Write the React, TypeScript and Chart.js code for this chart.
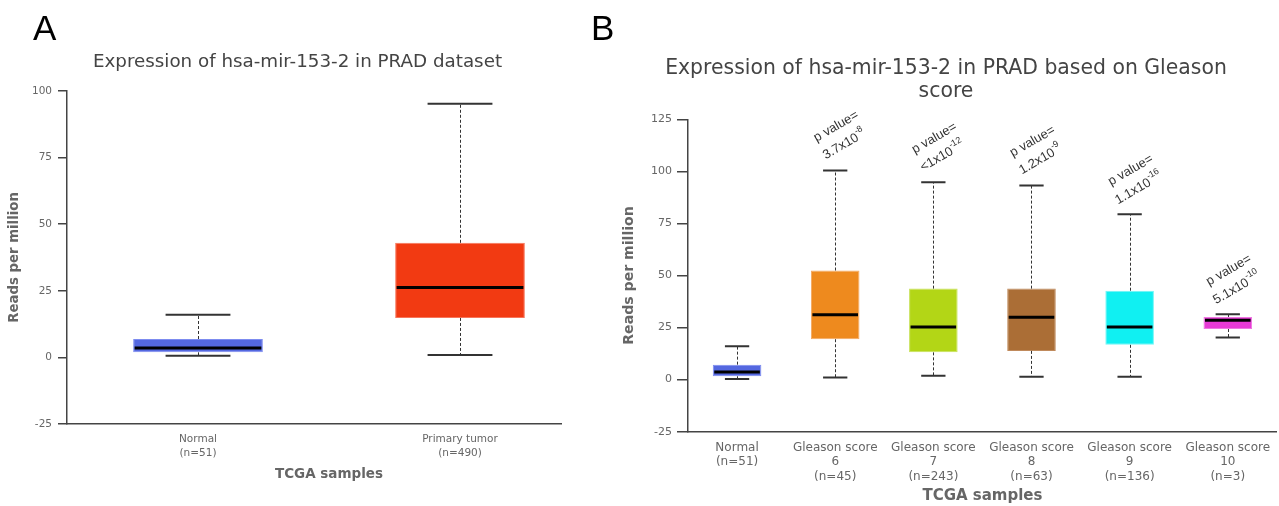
import React, { useEffect, useRef } from 'react';
import { Chart, registerables } from 'chart.js';

Chart.register(...registerables);

// ---------- Panel A data ----------
const categoriesA: string[][] = [['Normal', '(n=51)'], ['Primary tumor', '(n=490)']];
const minA = [0.6, 0.9];
const q1A = [1.9, 14.8];
const medianA = [3.5, 26.2];
const q3A = [6.9, 43.0];
const maxA = [16.0, 95.2];
const colorsA = ['#5468e0', '#f23a12'];
const bordersA = ['#7d8cf0', '#f7755a'];
const titleA = 'Expression of hsa-mir-153-2 in PRAD dataset';

// ---------- Panel B data ----------
const categoriesB: string[][] = [
  ['Normal', '(n=51)'],
  ['Gleason score', '6', '(n=45)'],
  ['Gleason score', '7', '(n=243)'],
  ['Gleason score', '8', '(n=63)'],
  ['Gleason score', '9', '(n=136)'],
  ['Gleason score', '10', '(n=3)'],
];
const minB = [0.3, 1.0, 1.9, 1.4, 1.4, 20.2];
const q1B = [1.6, 19.4, 13.1, 13.8, 16.7, 24.3];
const medianB = [3.7, 31.1, 25.3, 29.9, 25.3, 28.5];
const q3B = [7.2, 52.4, 43.7, 43.7, 42.7, 30.1];
const maxB = [16.0, 100.4, 94.8, 93.2, 79.4, 31.4];
const colorsB = ['#5468e0', '#ee8a1e', '#b3d616', '#ab6e36', '#10f0f2', '#e83ad6'];
const bordersB = ['#7d8cf0', '#f4a860', '#c8e25a', '#c08a5c', '#70f6f6', '#ef78e2'];
const pMantissaB = ['', '3.7', '<1', '1.2', '1.1', '5.1'];
const pExponentB = ['', '-8', '-12', '-9', '-16', '-10'];
const titleB = ['Expression of hsa-mir-153-2 in PRAD based on Gleason', 'score'];

const FONT = '"DejaVu Sans", sans-serif';

const boxPlugin = {
  id: 'boxWhiskers',
  afterDatasetsDraw(chart: any, _args: any, opts: any) {
    const { ctx } = chart;
    const y = chart.scales.y;
    const meta = chart.getDatasetMeta(0);
    meta.data.forEach((bar: any, i: number) => {
      const x = bar.x;
      const w = bar.width;
      const pMax = y.getPixelForValue(opts.max[i]);
      const pMin = y.getPixelForValue(opts.min[i]);
      const pQ1 = y.getPixelForValue(opts.q1[i]);
      const pQ3 = y.getPixelForValue(opts.q3[i]);
      const pMed = y.getPixelForValue(opts.median[i]);
      ctx.save();
      ctx.strokeStyle = '#333';
      ctx.lineWidth = 1;
      ctx.setLineDash([3, 2]);
      ctx.beginPath();
      ctx.moveTo(Math.round(x) + 0.5, pQ3);
      ctx.lineTo(Math.round(x) + 0.5, pMax);
      ctx.moveTo(Math.round(x) + 0.5, pQ1);
      ctx.lineTo(Math.round(x) + 0.5, pMin);
      ctx.stroke();
      ctx.setLineDash([]);
      ctx.lineWidth = 2;
      ctx.beginPath();
      ctx.moveTo(x - w / 4, pMax);
      ctx.lineTo(x + w / 4, pMax);
      ctx.moveTo(x - w / 4, pMin);
      ctx.lineTo(x + w / 4, pMin);
      ctx.stroke();
      ctx.strokeStyle = '#000';
      ctx.lineWidth = 3;
      ctx.beginPath();
      ctx.moveTo(x - w / 2 + 1.5, pMed);
      ctx.lineTo(x + w / 2 - 1.5, pMed);
      ctx.stroke();
      ctx.restore();
    });
  },
};

const pValuePlugin = {
  id: 'pValues',
  afterDatasetsDraw(chart: any, _args: any, opts: any) {
    if (!opts || !opts.mantissa) return;
    const { ctx } = chart;
    const y = chart.scales.y;
    const meta = chart.getDatasetMeta(0);
    const ang = (-30 * Math.PI) / 180;
    meta.data.forEach((bar: any, i: number) => {
      if (!opts.mantissa[i]) return;
      const x = bar.x;
      const top = y.getPixelForValue(opts.max[i]);
      ctx.save();
      ctx.fillStyle = '#333';
      ctx.textBaseline = 'middle';
      ctx.textAlign = 'center';
      ctx.font = '13px "Liberation Sans", Arial, sans-serif';
      ctx.translate(x + 1, top - 44);
      ctx.rotate(ang);
      ctx.fillText('p value=', 0, 0);
      ctx.restore();

      ctx.save();
      ctx.fillStyle = '#333';
      ctx.textBaseline = 'middle';
      ctx.textAlign = 'left';
      ctx.translate(x + 9, top - 26);
      ctx.rotate(ang);
      const base = opts.mantissa[i] + 'x10';
      const exp = opts.exponent[i];
      ctx.font = '13px "Liberation Sans", Arial, sans-serif';
      const wb = ctx.measureText(base).width;
      ctx.font = '9px "Liberation Sans", Arial, sans-serif';
      const we = ctx.measureText(exp).width;
      const start = -(wb + we) / 2;
      ctx.font = '13px "Liberation Sans", Arial, sans-serif';
      ctx.fillText(base, start, 0);
      ctx.font = '9px "Liberation Sans", Arial, sans-serif';
      ctx.fillText(exp, start + wb, -5.5);
      ctx.restore();
    });
  },
};

const letterPlugin = {
  id: 'panelLetter',
  afterDraw(chart: any, _args: any, opts: any) {
    if (!opts || !opts.text) return;
    const { ctx } = chart;
    ctx.save();
    ctx.fillStyle = '#000';
    ctx.font = '35px "Liberation Sans", Arial, sans-serif';
    ctx.textBaseline = 'alphabetic';
    ctx.textAlign = 'left';
    ctx.fillText(opts.text, opts.x, opts.y);
    ctx.restore();
  },
};

function makeConfig(p: {
  labels: string[][];
  min: number[]; q1: number[]; median: number[]; q3: number[]; max: number[];
  colors: string[]; borders: string[];
  title: string | string[];
  titleFont: number; titleLH: number; titlePadTop: number; titlePadBottom: number;
  yMin: number; yMax: number;
  yTickFont: number; yTickPad: number; yTickLen: number;
  yTitleFont: number; yTitlePad: number; yWidth: number;
  xTickFont: number; xTickLH: number; xTickPad: number;
  xTitleFont: number; xTitlePadBottom: number; xHeight: number;
  padding: { left: number; right: number; top: number; bottom: number };
  letter: { text: string; x: number; y: number };
  pvals?: { mantissa: string[]; exponent: string[]; max: number[] };
}) {
  return {
    type: 'bar' as const,
    data: {
      labels: p.labels,
      datasets: [
        {
          data: p.q1.map((v, i) => [v, p.q3[i]]),
          backgroundColor: p.colors,
          borderColor: p.borders,
          borderWidth: 1,
          borderSkipped: false,
          barPercentage: 0.495,
          categoryPercentage: 1,
        },
      ],
    },
    options: {
      responsive: false,
      animation: false,
      devicePixelRatio: 1,
      layout: { padding: p.padding },
      plugins: {
        legend: { display: false },
        tooltip: { enabled: false },
        title: {
          display: true,
          text: p.title,
          color: '#444',
          font: { family: FONT, size: p.titleFont, weight: 'normal', lineHeight: p.titleLH },
          padding: { top: p.titlePadTop, bottom: p.titlePadBottom },
        },
        boxWhiskers: { min: p.min, q1: p.q1, median: p.median, q3: p.q3, max: p.max },
        pValues: p.pvals || {},
        panelLetter: p.letter,
      },
      scales: {
        x: {
          grid: { display: false, drawTicks: false },
          border: { display: true, color: '#444', width: 1.5 },
          ticks: {
            color: '#666',
            font: { family: FONT, size: p.xTickFont, lineHeight: p.xTickLH },
            padding: p.xTickPad,
            maxRotation: 0,
            autoSkip: false,
          },
          title: {
            display: true,
            text: 'TCGA samples',
            color: '#666',
            font: { family: FONT, size: p.xTitleFont, weight: 'bold', lineHeight: 1.2 },
            padding: { top: 0, bottom: p.xTitlePadBottom },
          },
          afterFit: (s: any) => { s.height = p.xHeight; },
        },
        y: {
          min: p.yMin,
          max: p.yMax,
          grid: { drawOnChartArea: false, drawTicks: true, tickLength: p.yTickLen, color: '#444', lineWidth: 1.5 },
          border: { display: true, color: '#444', width: 1.5 },
          ticks: {
            stepSize: 25,
            color: '#666',
            font: { family: FONT, size: p.yTickFont },
            padding: p.yTickPad,
          },
          title: {
            display: true,
            text: 'Reads per million',
            color: '#666',
            font: { family: FONT, size: p.yTitleFont, weight: 'bold', lineHeight: 1.2 },
            padding: { top: p.yTitlePad, bottom: 0 },
          },
          afterFit: (s: any) => { s.width = p.yWidth; },
        },
      },
    },
    plugins: [boxPlugin, pValuePlugin, letterPlugin],
  };
}

export default function App() {
  const refA = useRef<HTMLCanvasElement>(null);
  const refB = useRef<HTMLCanvasElement>(null);

  useEffect(() => {
    const cfgA = makeConfig({
      labels: categoriesA,
      min: minA, q1: q1A, median: medianA, q3: q3A, max: maxA,
      colors: colorsA, borders: bordersA,
      title: titleA,
      titleFont: 18.3, titleLH: 1.2, titlePadTop: 51, titlePadBottom: 18,
      yMin: -25, yMax: 100,
      yTickFont: 10.5, yTickPad: 6, yTickLen: 9,
      yTitleFont: 13.3, yTitlePad: 3, yWidth: 63,
      xTickFont: 10.5, xTickLH: 14 / 10.5, xTickPad: 8,
      xTitleFont: 13.5, xTitlePadBottom: 1.9, xHeight: 60,
      padding: { left: 4, right: 9, top: 0, bottom: 22 },
      letter: { text: 'A', x: 33, y: 40 },
    });
    const cfgB = makeConfig({
      labels: categoriesB,
      min: minB, q1: q1B, median: medianB, q3: q3B, max: maxB,
      colors: colorsB, borders: bordersB,
      title: titleB,
      titleFont: 20.4, titleLH: 23 / 20.4, titlePadTop: 57, titlePadBottom: 16.3,
      yMin: -25, yMax: 125,
      yTickFont: 11, yTickPad: 5, yTickLen: 11,
      yTitleFont: 14.1, yTitlePad: 5.5, yWidth: 73,
      xTickFont: 12, xTickLH: 1.2, xTickPad: 8.75,
      xTitleFont: 15, xTitlePadBottom: 0, xHeight: 73.7,
      padding: { left: 27, right: 2, top: 0, bottom: 0.6 },
      letter: { text: 'B', x: 3, y: 40 },
      pvals: { mantissa: pMantissaB, exponent: pExponentB, max: maxB },
    });
    const a = new Chart(refA.current as HTMLCanvasElement, cfgA as any);
    const b = new Chart(refB.current as HTMLCanvasElement, cfgB as any);
    return () => {
      a.destroy();
      b.destroy();
    };
  }, []);

  return (
    <div style={{ position: 'absolute', left: 0, top: 0, width: 1279, height: 506, background: '#fff', overflow: 'hidden' }}>
      <div style={{ position: 'absolute', left: 0, top: 0, width: 562, height: 506, overflow: 'hidden' }}>
        <canvas ref={refA} width={600} height={506} style={{ display: 'block' }} />
      </div>
      <div style={{ position: 'absolute', left: 588, top: 0, width: 691, height: 506, overflow: 'hidden' }}>
        <canvas ref={refB} width={691} height={506} style={{ display: 'block' }} />
      </div>
    </div>
  );
}
